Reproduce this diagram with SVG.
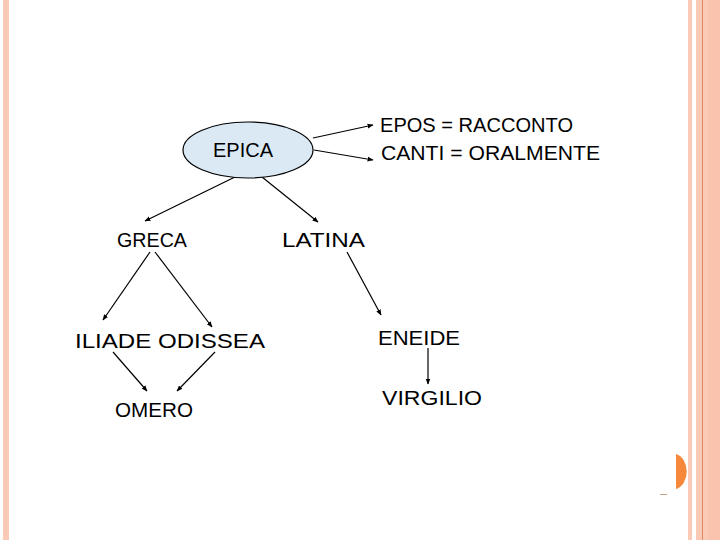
<svg xmlns="http://www.w3.org/2000/svg" width="720" height="540" viewBox="0 0 720 540">
<style>
.t{font-family:"Liberation Sans","DejaVu Sans",sans-serif;font-size:20px;fill:#000}
.c{stroke:#000;stroke-width:1.2;fill:none;marker-end:url(#ah)}
.b{fill:#fbcab6}
</style>
<defs>
<marker id="ah" viewBox="0 0 10 10" refX="9" refY="5" markerWidth="6" markerHeight="6" orient="auto" markerUnits="userSpaceOnUse">
<path d="M0,1 L10,5 L0,9 Z" fill="#000"/>
</marker>
</defs>
<rect width="720" height="540" fill="#fff"/>
<g id="frame">
<rect class="b" x="3" y="0" width="6" height="540"/>
<rect class="b" x="688" y="0" width="4" height="540"/>
<rect class="b" x="696" y="0" width="12" height="540"/>
<rect x="708" y="0" width="12" height="540" fill="#fac3ad"/>
<rect x="702" y="0" width="1" height="540" fill="#e08a5e"/>
<path d="M676,454 A14,18 0 0 1 676,489 Z" fill="#f5883a"/>
<rect x="660" y="494" width="7" height="1" fill="#c8a090"/>
</g>
<g id="connectors">
<line class="c" x1="313" y1="138" x2="373" y2="125"/>
<line class="c" x1="314" y1="150" x2="373" y2="160"/>
<line class="c" x1="235" y1="177" x2="145" y2="221"/>
<line class="c" x1="262" y1="177" x2="318" y2="222"/>
<line class="c" x1="150" y1="252" x2="103" y2="320"/>
<line class="c" x1="155" y1="252" x2="212" y2="327"/>
<line class="c" x1="347" y1="252" x2="381" y2="315"/>
<line class="c" x1="113" y1="352" x2="147" y2="391"/>
<line class="c" x1="215" y1="352" x2="177" y2="391"/>
<line class="c" x1="428" y1="348" x2="428" y2="384"/>
</g>
<g id="epica">
<ellipse cx="248" cy="150" rx="65" ry="28" fill="#dbe9f5" stroke="#000" stroke-width="1.2"/>
<text class="t" x="213" y="157" textLength="60" lengthAdjust="spacingAndGlyphs">EPICA</text>
</g>
<g id="epos"><text class="t" x="380" y="132" textLength="193" lengthAdjust="spacingAndGlyphs">EPOS = RACCONTO</text></g>
<g id="canti"><text class="t" x="381" y="160" textLength="219" lengthAdjust="spacingAndGlyphs">CANTI = ORALMENTE</text></g>
<g id="greca"><text class="t" x="117" y="247" textLength="70" lengthAdjust="spacingAndGlyphs">GRECA</text></g>
<g id="latina"><text class="t" x="282" y="247" textLength="83" lengthAdjust="spacingAndGlyphs">LATINA</text></g>
<g id="iliade"><text class="t" x="75" y="348" textLength="190" lengthAdjust="spacingAndGlyphs">ILIADE ODISSEA</text></g>
<g id="omero"><text class="t" x="115" y="417" textLength="78" lengthAdjust="spacingAndGlyphs">OMERO</text></g>
<g id="eneide"><text class="t" x="378" y="345" textLength="82" lengthAdjust="spacingAndGlyphs">ENEIDE</text></g>
<g id="virgilio"><text class="t" x="382" y="405" textLength="100" lengthAdjust="spacingAndGlyphs">VIRGILIO</text></g>
</svg>
